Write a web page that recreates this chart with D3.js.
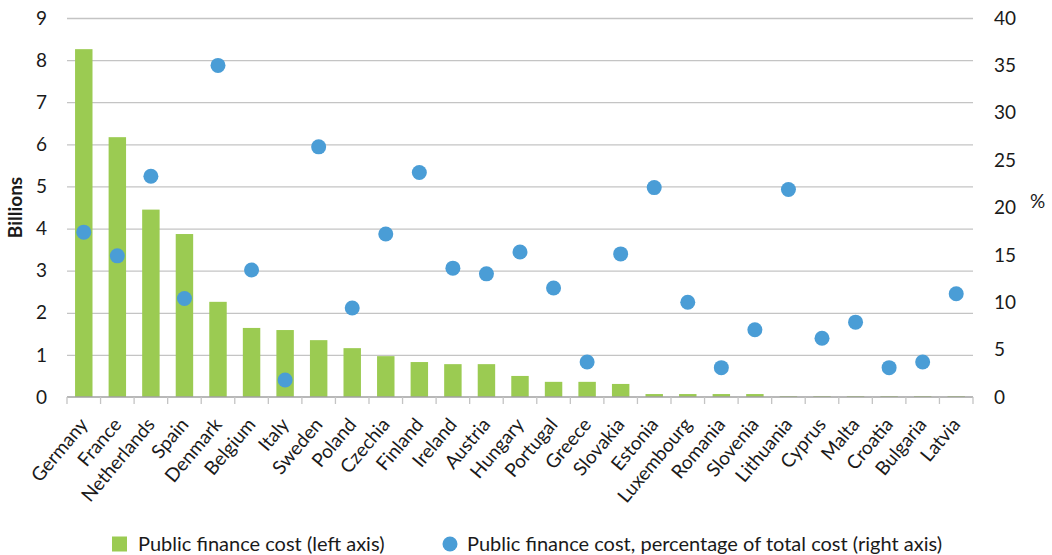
<!DOCTYPE html>
<html>
<head>
<meta charset="utf-8">
<script src="https://cdn.jsdelivr.net/npm/d3@7"></script>
<style>
  body { margin: 0; background: #fff; }
  text { font-family: Lato, "Noto Sans", sans-serif; fill: #1a1a1a; }
</style>
</head>
<body>
<div id="chart"></div>
<script>
const countries = ['Germany', 'France', 'Netherlands', 'Spain', 'Denmark', 'Belgium', 'Italy', 'Sweden',
  'Poland', 'Czechia', 'Finland', 'Ireland', 'Austria', 'Hungary', 'Portugal', 'Greece', 'Slovakia',
  'Estonia', 'Luxembourg', 'Romania', 'Slovenia', 'Lithuania', 'Cyprus', 'Malta', 'Croatia', 'Bulgaria', 'Latvia'];
// public finance cost, billions (left axis)
const costBillions = [8.26, 6.17, 4.45, 3.87, 2.26, 1.64, 1.59, 1.35, 1.16, 0.97, 0.83, 0.78, 0.78, 0.50,
  0.36, 0.36, 0.31, 0.07, 0.07, 0.07, 0.07, 0.02, 0.02, 0.02, 0.02, 0.02, 0.02];
// share of total cost, % (right axis)
const costShare = [17.4, 14.9, 23.3, 10.4, 35.0, 13.4, 1.8, 26.4, 9.4, 17.2, 23.7, 13.6, 13.0, 15.3,
  11.5, 3.7, 15.1, 22.1, 10.0, 3.1, 7.1, 21.9, 6.2, 7.9, 3.1, 3.7, 10.9];
const leftTicks = [0, 1, 2, 3, 4, 5, 6, 7, 8, 9];
const rightTicks = [0, 5, 10, 15, 20, 25, 30, 35, 40];

const width = 1052;
const height = 555;
const margin = { top: 18, right: 79, bottom: 158, left: 67 };
const green = '#9bcb52';
const blue = '#4a9dd6';
const fs = 19;

const svg = d3.select('#chart').append('svg')
  .attr('width', width)
  .attr('height', height);

const x = d3.scaleBand()
  .domain(countries)
  .range([margin.left, width - margin.right])
  .paddingInner(0.48)
  .paddingOuter(0.24);

const yLeft = d3.scaleLinear().domain([0, 9]).range([height - margin.bottom, margin.top]);
const yRight = d3.scaleLinear().domain([0, 40]).range([height - margin.bottom, margin.top]);

// gridlines
svg.append('g')
  .selectAll('line')
  .data(leftTicks.slice(1))
  .enter()
  .append('line')
  .attr('x1', margin.left)
  .attr('x2', width - margin.right)
  .attr('y1', (d) => yLeft(d) + 0.5)
  .attr('y2', (d) => yLeft(d) + 0.5)
  .attr('stroke', '#c4c4c4')
  .attr('stroke-width', 1.3);

// bars
svg.append('g')
  .selectAll('rect')
  .data(costBillions)
  .enter()
  .append('rect')
  .attr('x', (d, i) => x(countries[i]))
  .attr('y', (d) => yLeft(d))
  .attr('width', x.bandwidth())
  .attr('height', (d) => yLeft(0) - yLeft(d))
  .attr('fill', green);

// x axis with category boundary ticks
const xAxis = svg.append('g')
  .attr('transform', `translate(0, ${yLeft(0)})`);
xAxis.append('line')
  .attr('x1', margin.left)
  .attr('x2', width - margin.right)
  .attr('stroke', '#a0a0a0')
  .attr('stroke-width', 1.5);
const step = x.step();
xAxis.selectAll('.tk')
  .data(d3.range(countries.length + 1))
  .enter()
  .append('line')
  .attr('class', 'tk')
  .attr('x1', (i) => margin.left + i * step)
  .attr('x2', (i) => margin.left + i * step)
  .attr('y1', 0)
  .attr('y2', 7)
  .attr('stroke', '#c4c4c4')
  .attr('stroke-width', 1.3);
xAxis.selectAll('text')
  .data(countries)
  .enter()
  .append('text')
  .attr('text-anchor', 'end')
  .attr('font-size', fs)
  .attr('transform', (d) => `translate(${x(d) + x.bandwidth() / 2 + 5}, 28) rotate(-50)`)
  .text((d) => d);

// left axis labels
svg.append('g')
  .selectAll('text')
  .data(leftTicks)
  .enter()
  .append('text')
  .attr('x', 47)
  .attr('y', (d) => yLeft(d))
  .attr('dy', '0.35em')
  .attr('text-anchor', 'end')
  .attr('font-size', fs)
  .text((d) => d);

// right axis labels
svg.append('g')
  .selectAll('text')
  .data(rightTicks)
  .enter()
  .append('text')
  .attr('x', 994)
  .attr('y', (d) => yRight(d))
  .attr('dy', '0.35em')
  .attr('font-size', fs)
  .text((d) => d);

// axis titles
svg.append('text')
  .attr('transform', `translate(22, ${yLeft(4.5)}) rotate(-90)`)
  .attr('text-anchor', 'middle')
  .attr('font-size', fs)
  .attr('font-weight', 'bold')
  .text('Billions');

svg.append('text')
  .attr('x', 1030)
  .attr('y', yRight(20))
  .attr('font-size', fs)
  .text('%');

// dots
svg.append('g')
  .selectAll('circle')
  .data(costShare)
  .enter()
  .append('circle')
  .attr('cx', (d, i) => x(countries[i]) + x.bandwidth() / 2)
  .attr('cy', (d) => yRight(d))
  .attr('r', 7.5)
  .attr('fill', blue);

// legend
const legend = svg.append('g').attr('transform', 'translate(0, 544)');
legend.append('rect')
  .attr('x', 112)
  .attr('y', -7.5)
  .attr('width', 15)
  .attr('height', 15)
  .attr('fill', green);
legend.append('text')
  .attr('x', 138)
  .attr('dy', '0.35em')
  .attr('font-size', 20)
  .text('Public finance cost (left axis)');
legend.append('circle')
  .attr('cx', 450)
  .attr('r', 7.5)
  .attr('fill', blue);
legend.append('text')
  .attr('x', 467)
  .attr('dy', '0.35em')
  .attr('font-size', 20)
  .text('Public finance cost, percentage of total cost (right axis)');
</script>
</body>
</html>
